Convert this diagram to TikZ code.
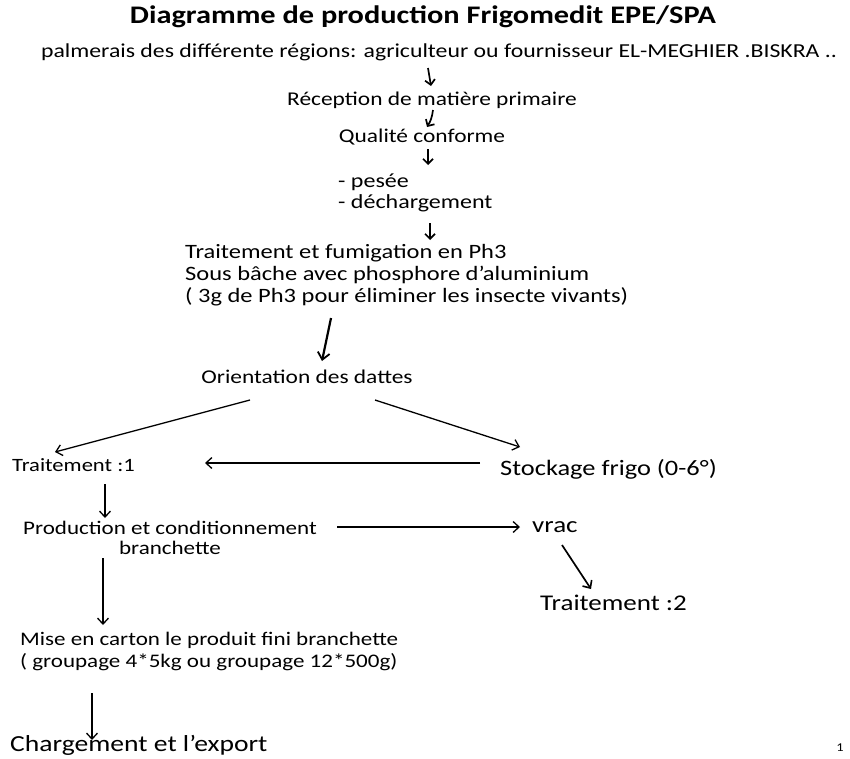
\documentclass[tikz,border=0pt]{standalone}
\usepackage{fontspec}
\setmainfont[FakeStretch=1.2]{Carlito}
\usetikzlibrary{arrows.meta}
\begin{document}
\begin{tikzpicture}[x=1pt,y=-1pt,
  txt/.style={inner sep=0pt, font=\fontsize{19.5}{24}\selectfont},
  sarr/.style={-{Straight Barb[length=5pt,width=10pt,line width=1.7pt]}, line width=1.7pt},
  barr/.style={-{Straight Barb[length=7pt,width=12pt,line width=1.8pt]}, line width=2.2pt},
  larr/.style={-{Straight Barb[length=6pt,width=11pt,line width=1.3pt]}, line width=1.3pt},
  marr/.style={-{Straight Barb[length=6pt,width=11pt,line width=1.6pt]}, line width=1.7pt}]
\useasboundingbox (0,0) rectangle (850,758);
\fill[white] (0,0) rectangle (850,758);
\node[inner sep=0pt,font=\bfseries\fontsize{25.3}{30}\selectfont] (title) at (423,17) {Diagramme de production Frigomedit EPE/SPA};
\node[txt, font=\fontsize{19.8}{24}\selectfont] (palm) at (439,52) {palmerais des différente régions: agriculteur ou fournisseur EL-MEGHIER .BISKRA ..};
\node[txt] (recep) at (432,100) {Réception de matière primaire};
\node[txt] (qual) at (422,137) {Qualité conforme};
\node[txt, anchor=west, align=left, font=\fontsize{20}{21}\selectfont] (pes) at (338,193) {- pesée\\- déchargement};
\node[txt, anchor=west, align=left, font=\fontsize{20.4}{22}\selectfont] (trait) at (185,275) {Traitement et fumigation en Ph3\\Sous bâche avec phosphore d’aluminium\\( 3g de Ph3 pour éliminer les insecte vivants)};
\node[txt] (orient) at (307,377) {Orientation des dattes};
\node[txt, anchor=west, font=\fontsize{18.8}{20}\selectfont] (t1) at (12,465) {Traitement :1};
\node[txt, anchor=west, font=\fontsize{22}{26}\selectfont] (stock) at (500,469) {Stockage frigo (0-6°)};
\node[txt, align=center, font=\fontsize{19.2}{20}\selectfont] (prod) at (170,538) {Production et conditionnement\\branchette};
\node[txt, anchor=west, font=\fontsize{22.5}{26}\selectfont] (vrac) at (532,527) {vrac};
\node[txt, anchor=west, font=\fontsize{22.5}{26}\selectfont] (t2) at (540,603) {Traitement :2};
\node[txt, anchor=west, align=left, font=\fontsize{19.2}{22}\selectfont] (mise) at (20,651) {Mise en carton le produit fini branchette\\( groupage 4*5kg ou groupage 12*500g)};
\node[txt, anchor=west, font=\fontsize{23}{28}\selectfont] (charg) at (10,745) {Chargement et l’export};
\node[txt, font=\fontsize{12}{14}\selectfont] (page) at (840,748) {1};
% connectors
\draw[sarr] ([shift={(-11,16)}]palm.center) -- ([shift={(-1,-14)}]recep.center);
\draw[sarr] ([shift={(1,10)}]recep.center) to[bend left=12] ([shift={(5,-10)}]qual.center);
\draw[sarr] ([shift={(6,12)}]qual.center) -- ([shift={(90,-28)}]pes.west);
\draw[sarr] ([shift={(92,30)}]pes.west) -- ([shift={(245,-35)}]trait.west);
\draw[barr] ([shift={(146,43)}]trait.west) -- ([shift={(15,-16)}]orient.center);
\draw[larr] ([shift={(-57,23)}]orient.center) -- ([shift={(43,-13)}]t1.west);
\draw[larr] ([shift={(68,23)}]orient.center) -- ([shift={(20,-22)}]stock.west);
\draw[larr] ([shift={(-20,-6)}]stock.west) -- ([shift={(193,-2)}]t1.west);
\draw[larr] ([shift={(93,19)}]t1.west) -- ([shift={(-65,-20)}]prod.center);
\draw[larr] ([shift={(167,-11)}]prod.center) -- ([shift={(-12,0)}]vrac.west);
\draw[marr] ([shift={(30,18)}]vrac.west) -- ([shift={(51,-14)}]t2.west);
\draw[larr] ([shift={(-67,20)}]prod.center) -- ([shift={(83,-26)}]mise.west);
\draw[larr] ([shift={(72,42)}]mise.west) -- ([shift={(82,-5)}]charg.west);
\end{tikzpicture}
\end{document}
